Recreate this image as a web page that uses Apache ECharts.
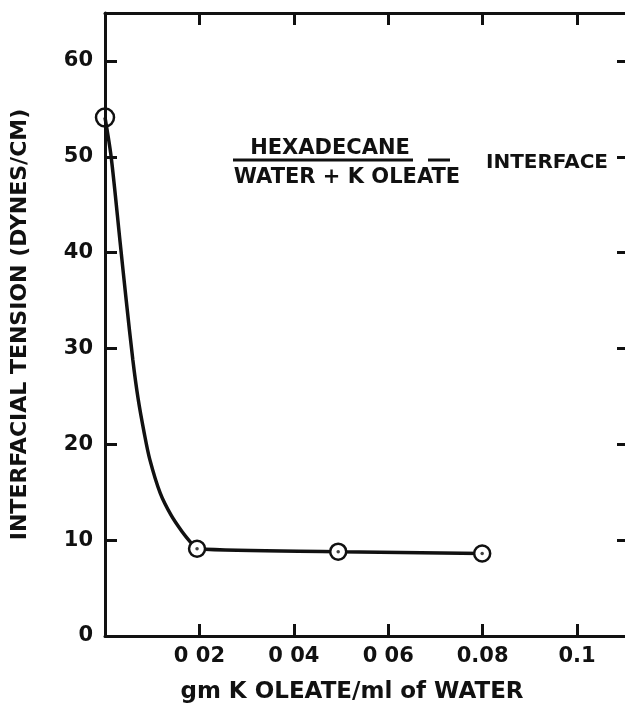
<!DOCTYPE html>
<html>
<head>
<meta charset="utf-8">
<script src="https://cdn.jsdelivr.net/npm/echarts@6/dist/echarts.min.js"></script>
<style>
html,body{margin:0;padding:0;background:#fff;overflow:hidden;}
#chart{width:625px;height:708px;}
</style>
</head>
<body>
<div id="chart"></div>
<script>
// ---- data ----
const yTickValues = [0, 10, 20, 30, 40, 50, 60];
const yTickLabels = ['0', '10', '20', '30', '40', '50', '60'];
const xTickValues = [0.02, 0.04, 0.06, 0.08, 0.1];
const xTickLabels = ['0 02', '0 04', '0 06', '0.08', '0.1'];

// measured points (circles)
const measuredX = [0, 0.0195, 0.0494, 0.0799];
const measuredY = [54.1, 9.1, 8.8, 8.6];

// hand-drawn curve, digitised along its path
const curveX = [0, 0.0013, 0.0032, 0.0045, 0.0059, 0.0070, 0.0083, 0.0095, 0.0117, 0.0140, 0.0163, 0.0181, 0.0195, 0.0494, 0.0799];
const curveY = [54.1, 50.0, 41.1, 35.0, 28.8, 24.8, 21.2, 18.4, 14.9, 12.6, 10.9, 9.8, 9.1, 8.8, 8.6];

const titleY = 'INTERFACIAL TENSION (DYNES/CM)';
const titleX = 'gm K OLEATE/ml of WATER';
const noteTop = 'HEXADECANE';
const noteBottom = 'WATER + K OLEATE';
const noteRight = 'INTERFACE';

// ---- chart ----
const INK = '#111';
const FONT = 'DejaVu Sans';
const X_MIN = 0, X_MAX = 0.111, Y_MIN = 0, Y_MAX = 65;

function labelFor(values, labels, v) {
  for (let i = 0; i < values.length; i++) {
    if (Math.abs(values[i] - v) < 1e-6) return labels[i];
  }
  return '';
}

const zip = (xs, ys) => xs.map((x, i) => [x, ys[i]]);

const axisLine = { show: true, onZero: false, lineStyle: { color: INK, width: 3 } };
const axisTick = { show: true, inside: true, length: 12, lineStyle: { color: INK, width: 3 } };

const chart = echarts.init(document.getElementById('chart'), null, { renderer: 'canvas' });

chart.setOption({
  backgroundColor: '#fff',
  animation: false,
  grid: { left: 105, top: 13, width: 524, height: 623, containLabel: false, outerBoundsMode: 'none' },
  xAxis: [
    {
      type: 'value', position: 'bottom', min: X_MIN, max: X_MAX, interval: 0.02,
      axisLine, axisTick, splitLine: { show: false },
      axisLabel: {
        color: INK, fontFamily: FONT, fontWeight: 'bold', fontSize: 21, margin: 10,
        formatter: v => labelFor(xTickValues, xTickLabels, v)
      },
      name: titleX, nameLocation: 'middle', nameGap: 45,
      nameTextStyle: { color: INK, fontFamily: FONT, fontWeight: 'bold', fontSize: 23, padding: [0, 30, 0, 0] }
    },
    {
      type: 'value', position: 'top', min: X_MIN, max: X_MAX, interval: 0.02,
      axisLine, axisTick, splitLine: { show: false }, axisLabel: { show: false }
    }
  ],
  yAxis: [
    {
      type: 'value', position: 'left', min: Y_MIN, max: Y_MAX, interval: 10,
      axisLine, axisTick, splitLine: { show: false },
      axisLabel: {
        color: INK, fontFamily: FONT, fontWeight: 'bold', fontSize: 21, margin: 12,
        formatter: v => labelFor(yTickValues, yTickLabels, v)
      },
      name: titleY, nameLocation: 'middle', nameGap: 74,
      nameTextStyle: { color: INK, fontFamily: FONT, fontWeight: 'bold', fontSize: 22 }
    },
    {
      type: 'value', position: 'right', min: Y_MIN, max: Y_MAX, interval: 10,
      axisLine, axisTick, splitLine: { show: false }, axisLabel: { show: false }
    }
  ],
  series: [
    {
      name: 'curve', type: 'line', data: zip(curveX, curveY),
      smooth: 0.3, showSymbol: false, symbol: 'none',
      lineStyle: { color: INK, width: 3.5 }, z: 2, silent: true
    },
    {
      name: 'measured', type: 'scatter',
      data: zip(measuredX, measuredY).map((p, i) => ({
        value: p,
        symbolSize: i === 0 ? 18 : 16,
        itemStyle: { color: i === 0 ? 'rgba(255,255,255,0)' : '#fff' }
      })),
      symbol: 'circle',
      itemStyle: { color: '#fff', borderColor: INK, borderWidth: 2.5, opacity: 1 },
      z: 3, silent: true
    },
    {
      name: 'centre dots', type: 'scatter',
      data: zip(measuredX.slice(1), measuredY.slice(1)),
      symbol: 'circle', symbolSize: 3.5,
      itemStyle: { color: INK }, z: 4, silent: true
    }
  ],
  graphic: [
    {
      type: 'text', x: 330, y: 149, z: 10,
      style: { text: noteTop, fill: INK, fontFamily: FONT, fontWeight: 'bold', fontSize: 21, align: 'center', verticalAlign: 'middle' }
    },
    {
      type: 'line', z: 10,
      shape: { x1: 233, y1: 160, x2: 413, y2: 160 },
      style: { stroke: INK, lineWidth: 3 }
    },
    {
      type: 'line', z: 10,
      shape: { x1: 428, y1: 160, x2: 450, y2: 160 },
      style: { stroke: INK, lineWidth: 3 }
    },
    {
      type: 'text', x: 347, y: 178, z: 10,
      style: { text: noteBottom, fill: INK, fontFamily: FONT, fontWeight: 'bold', fontSize: 21, align: 'center', verticalAlign: 'middle' }
    },
    {
      type: 'text', x: 547, y: 163, z: 10,
      style: { text: noteRight, fill: INK, fontFamily: FONT, fontWeight: 'bold', fontSize: 20, align: 'center', verticalAlign: 'middle' }
    }
  ]
});
</script>
</body>
</html>
